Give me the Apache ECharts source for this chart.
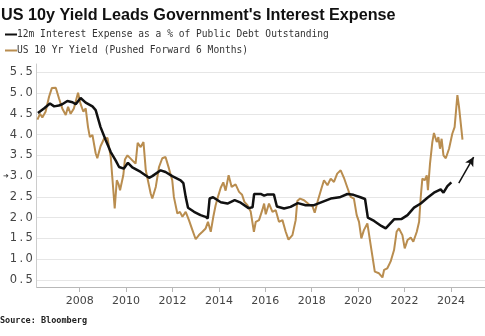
<!DOCTYPE html>
<html>
<head>
<meta charset="utf-8">
<script src="https://cdn.jsdelivr.net/npm/echarts@6/dist/echarts.min.js"></script>
<style>
  html, body { margin: 0; padding: 0; background: #fff; }
  #chart { width: 485px; height: 336px; }
</style>
</head>
<body>
<div id="chart"></div>
<script>
// 12m interest expense as a % of public debt outstanding (decimal year, percent)
const expenseYears = [2006.2, 2006.46, 2006.72, 2006.9, 2007.1, 2007.25, 2007.47, 2007.69, 2007.83, 2008.04,
  2008.26, 2008.55, 2008.69, 2008.9, 2009.12, 2009.34, 2009.55, 2009.7, 2009.9, 2010.08,
  2010.27, 2010.63, 2010.99, 2011.13, 2011.49, 2011.7, 2011.99, 2012.35, 2012.47, 2012.57,
  2012.67, 2012.93, 2013.21, 2013.43, 2013.52, 2013.6, 2013.75, 2014.08, 2014.37, 2014.68,
  2014.94, 2015.28, 2015.45, 2015.52, 2015.8, 2015.95, 2016.1, 2016.37, 2016.5, 2016.81,
  2017.09, 2017.4, 2017.74, 2018.1, 2018.46, 2018.82, 2019.2, 2019.54, 2019.8, 2020.1,
  2020.3, 2020.42, 2020.69, 2021.0, 2021.19, 2021.55, 2021.88, 2022.13, 2022.41, 2022.7,
  2022.99, 2023.27, 2023.56, 2023.68, 2023.85, 2024.02];
const expenseValues = [4.52, 4.63, 4.75, 4.68, 4.70, 4.73, 4.81, 4.78, 4.73, 4.88,
  4.77, 4.68, 4.59, 4.18, 3.87, 3.58, 3.38, 3.22, 3.18, 3.32,
  3.21, 3.10, 2.96, 3.00, 3.14, 3.10, 3.00, 2.90, 2.83, 2.50,
  2.24, 2.14, 2.06, 2.02, 1.98, 2.46, 2.49, 2.37, 2.34, 2.42,
  2.36, 2.23, 2.25, 2.57, 2.57, 2.53, 2.56, 2.56, 2.27, 2.22,
  2.26, 2.35, 2.30, 2.30, 2.38, 2.46, 2.49, 2.57, 2.55, 2.49,
  2.45, 2.00, 1.92, 1.80, 1.74, 1.96, 1.97, 2.06, 2.24, 2.34,
  2.48, 2.60, 2.68, 2.60, 2.76, 2.85];

// US 10 yr yield, pushed forward 6 months (decimal year, percent)
const yieldYears = [2006.18, 2006.29, 2006.39, 2006.53, 2006.68, 2006.8, 2006.97, 2007.11, 2007.25, 2007.4,
  2007.5, 2007.61, 2007.75, 2007.93, 2008.03, 2008.16, 2008.26, 2008.36, 2008.44, 2008.55,
  2008.69, 2008.76, 2008.9, 2009.05, 2009.2, 2009.34, 2009.45, 2009.51, 2009.6, 2009.68,
  2009.74, 2009.88, 2009.95, 2010.06, 2010.27, 2010.41, 2010.5, 2010.63, 2010.75, 2010.85,
  2011.06, 2011.13, 2011.28, 2011.42, 2011.56, 2011.7, 2011.85, 2011.99, 2012.06, 2012.21,
  2012.32, 2012.43, 2012.57, 2012.71, 2012.86, 2013.0, 2013.14, 2013.29, 2013.43, 2013.53,
  2013.65, 2013.76, 2013.86, 2013.96, 2014.08, 2014.19, 2014.29, 2014.42, 2014.55, 2014.72,
  2014.87, 2015.0, 2015.1, 2015.23, 2015.37, 2015.51, 2015.59, 2015.73, 2015.87, 2015.95,
  2016.02, 2016.16, 2016.31, 2016.45, 2016.59, 2016.74, 2016.88, 2017.0, 2017.17, 2017.31,
  2017.38, 2017.5, 2017.67, 2017.88, 2018.03, 2018.13, 2018.27, 2018.42, 2018.53, 2018.68,
  2018.82, 2018.96, 2019.1, 2019.25, 2019.39, 2019.54, 2019.68, 2019.82, 2019.94, 2020.04,
  2020.14, 2020.25, 2020.4, 2020.51, 2020.62, 2020.72, 2020.9, 2021.05, 2021.12, 2021.26,
  2021.4, 2021.55, 2021.66, 2021.76, 2021.91, 2022.01, 2022.13, 2022.27, 2022.38, 2022.53,
  2022.63, 2022.7, 2022.77, 2022.87, 2022.96, 2023.01, 2023.1, 2023.2, 2023.27, 2023.39,
  2023.46, 2023.53, 2023.6, 2023.68, 2023.78, 2023.92, 2024.06, 2024.16, 2024.28, 2024.35,
  2024.5];
const yieldValues = [4.36, 4.50, 4.41, 4.55, 4.91, 5.12, 5.13, 4.87, 4.63, 4.47,
  4.67, 4.50, 4.63, 5.01, 4.75, 4.55, 4.63, 4.18, 3.94, 3.99,
  3.55, 3.43, 3.72, 3.90, 3.92, 3.45, 2.66, 2.22, 2.90, 2.80,
  2.66, 3.02, 3.40, 3.50, 3.38, 3.30, 3.80, 3.70, 3.82, 3.14,
  2.58, 2.46, 2.74, 3.22, 3.43, 3.46, 3.18, 2.90, 2.50, 2.10,
  2.14, 2.02, 2.14, 1.94, 1.70, 1.48, 1.58, 1.66, 1.74, 1.90,
  1.66, 2.02, 2.30, 2.50, 2.72, 2.85, 2.65, 3.02, 2.74, 2.80,
  2.62, 2.55, 2.38, 2.30, 2.15, 1.66, 1.90, 1.94, 2.18, 2.34,
  2.08, 2.34, 2.14, 2.18, 1.90, 1.94, 1.66, 1.47, 1.58, 1.94,
  2.40, 2.46, 2.42, 2.32, 2.28, 2.12, 2.42, 2.70, 2.90, 2.78,
  2.94, 2.86, 3.06, 3.14, 2.96, 2.72, 2.50, 2.46, 2.06, 1.90,
  1.50, 1.70, 1.86, 1.46, 1.06, 0.70, 0.66, 0.56, 0.74, 0.78,
  0.94, 1.22, 1.66, 1.74, 1.58, 1.26, 1.46, 1.52, 1.42, 1.66,
  1.90, 2.50, 2.94, 2.90, 3.02, 2.66, 3.30, 3.82, 4.04, 3.82,
  3.94, 3.66, 3.90, 3.50, 3.43, 3.66, 4.02, 4.18, 4.95, 4.67,
  3.88];

// Axis tick labels
const yearTicks = [2008, 2010, 2012, 2014, 2016, 2018, 2020, 2022, 2024];
const valueTicks = [0.5, 1.0, 1.5, 2.0, 2.5, 3.0, 3.5, 4.0, 4.5, 5.0, 5.5];

// Hand-drawn "heading higher" arrow after the last expense reading
const arrowFrom = [2024.34, 2.83];
const arrowTo = [2024.98, 3.46];

const zip = (xs, ys) => xs.map((x, i) => [x, ys[i]]);

const chart = echarts.init(document.getElementById('chart'), null, { renderer: 'canvas' });

const monoFont = '"DejaVu Sans Mono", "Liberation Mono", monospace';

chart.setOption({
  animation: false,
  backgroundColor: '#ffffff',
  title: {
    text: "US 10y Yield Leads Government's Interest Expense",
    left: -4,
    top: 3,
    textStyle: {
      fontFamily: '"Liberation Sans", Arial, sans-serif',
      fontWeight: 'bold',
      fontSize: 16.2,
      color: '#111'
    }
  },
  legend: {
    orient: 'vertical',
    left: 0,
    top: 24,
    itemWidth: 12,
    itemHeight: 2,
    itemGap: 5,
    icon: 'rect',
    textStyle: {
      fontFamily: monoFont,
      fontSize: 9.6,
      lineHeight: 11,
      color: '#333',
      padding: [0, 0, 0, -5]
    },
    data: [
      { name: '12m Interest Expense as a % of Public Debt Outstanding', itemStyle: { color: '#111' } },
      { name: 'US 10 Yr Yield (Pushed Forward 6 Months)', itemStyle: { color: '#b98d4f' } }
    ]
  },
  graphic: [{
    type: 'text',
    left: 0,
    top: 316,
    style: {
      text: 'Source: Bloomberg',
      font: 'bold 8.5px "DejaVu Sans Mono", monospace',
      fill: '#222'
    }
  }],
  grid: { left: 36, right: 0, top: 64, bottom: 49, containLabel: false },
  xAxis: {
    type: 'value',
    min: 2006.15,
    max: 2025.47,
    minInterval: 2,
    maxInterval: 2,
    axisLine: { show: true, lineStyle: { color: '#b8b8b8', width: 1 } },
    axisTick: { show: true, length: 5, customValues: yearTicks, lineStyle: { color: '#b8b8b8' } },
    axisLabel: {
      customValues: yearTicks,
      margin: 9,
      fontFamily: '"DejaVu Sans", Verdana, sans-serif',
      fontSize: 11,
      color: '#444',
      formatter: v => String(v)
    },
    splitLine: { show: false }
  },
  yAxis: {
    type: 'value',
    min: 0.33,
    max: 5.7,
    minInterval: 0.5,
    maxInterval: 0.5,
    axisLine: { show: true, lineStyle: { color: '#cccccc', width: 1 } },
    axisTick: { show: false },
    axisLabel: {
      customValues: valueTicks,
      margin: 4,
      fontFamily: '"DejaVu Sans", Verdana, sans-serif',
      fontSize: 11.5,
      color: '#444',
      formatter: v => {
        const s = v.toFixed(1).replace('.', '\u2009.\u2009');
        return v === 3 ? '{m|\u279C}' + s : s;
      },
      rich: {
        m: { fontSize: 7, color: '#333', padding: [0, 1, 0, 0] }
      }
    },
    splitLine: {
      show: true,
      showMinLine: false,
      showMaxLine: false,
      lineStyle: { color: '#e6e6e6', width: 1 }
    }
  },
  series: [
    {
      name: 'US 10 Yr Yield (Pushed Forward 6 Months)',
      type: 'line',
      data: zip(yieldYears, yieldValues),
      showSymbol: false,
      smooth: false,
      lineStyle: { color: '#b98d4f', width: 2 },
      itemStyle: { color: '#b98d4f' },
      z: 2
    },
    {
      name: '12m Interest Expense as a % of Public Debt Outstanding',
      type: 'line',
      data: zip(expenseYears, expenseValues),
      showSymbol: false,
      lineStyle: { color: '#111', width: 2.5 },
      itemStyle: { color: '#111' },
      z: 3,
      markLine: {
        silent: true,
        symbol: ['none', 'arrow'],
        symbolSize: [7, 9],
        label: { show: false },
        lineStyle: { color: '#111', width: 1.5, type: 'solid' },
        data: [[{ coord: arrowFrom }, { coord: arrowTo }]]
      }
    }
  ]
});
</script>
</body>
</html>
